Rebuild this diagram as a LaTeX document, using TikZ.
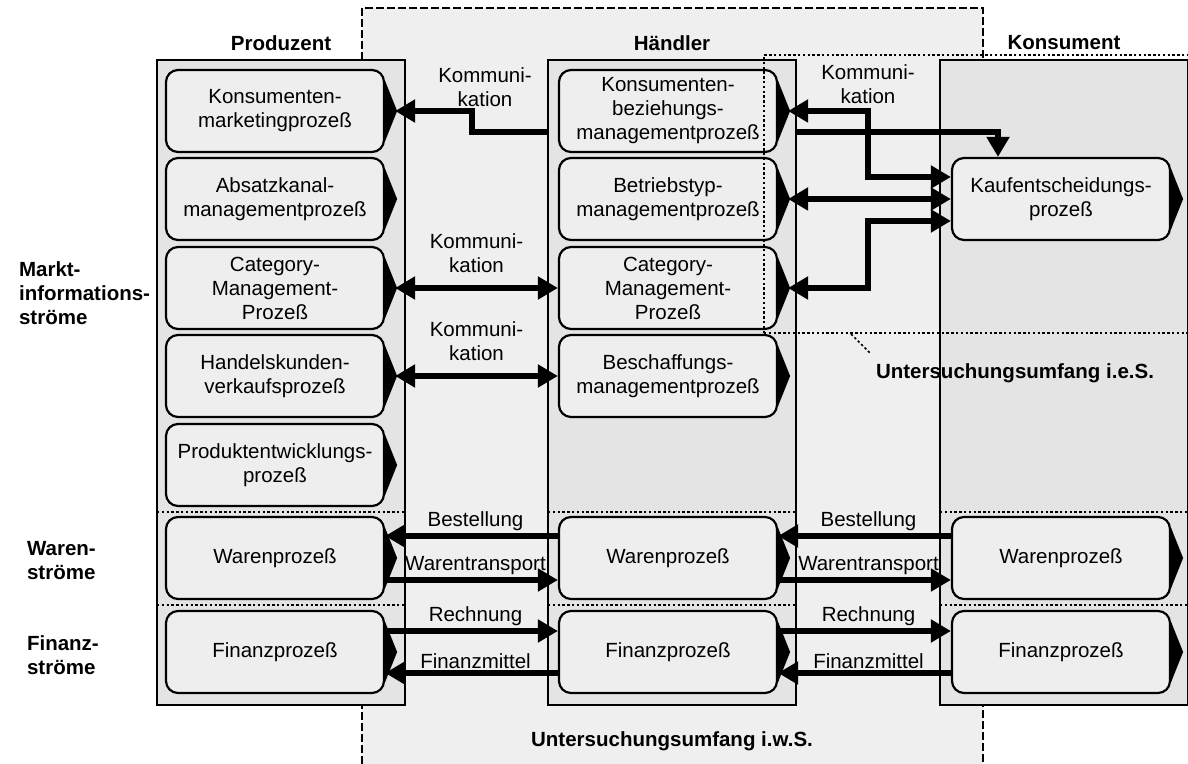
\documentclass[tikz,border=0pt]{standalone}
\usepackage{fontspec}
\setmainfont{Liberation Sans}
\usetikzlibrary{arrows.meta}
\definecolor{outergray}{HTML}{EFEFEF}
\definecolor{colgray}{HTML}{E4E4E4}
\definecolor{procgray}{HTML}{EEEEEE}

\begin{document}
\begin{tikzpicture}[x=0.5pt, y=-0.5pt, font=\fontsize{10.25}{12}\selectfont]
        \tikzstyle{col}=[draw, line width=1pt, fill=colgray, minimum width=124pt, minimum height=322.5pt, inner sep=0pt]
        \tikzstyle{proc}=[draw, line width=1.1pt, fill=procgray, rounded corners=6pt, minimum width=109pt, minimum height=41pt, inner sep=1pt, align=center]
        \tikzstyle{flow}=[line width=2.8pt, -{Triangle[length=10pt, width=11pt]}]
        \tikzstyle{both}=[line width=2.8pt, {Triangle[length=10pt, width=11pt]}-{Triangle[length=10pt, width=11pt]}]
        \tikzstyle{sep}=[line width=1pt, dash pattern=on 1.2pt off 1.2pt]
        \tikzstyle{wide}=[line width=0.9pt, dash pattern=on 4pt off 1.5pt]
        \tikzstyle{head}=[font=\fontsize{10.25}{12}\selectfont\bfseries]
        \tikzstyle{lbl}=[above, inner sep=1pt, xshift=2pt]

        \useasboundingbox (0,0) rectangle (1188,764);

        % Untersuchungsumfang i.w.S.
        \fill[outergray] (362,8) rectangle (983,764);
        \draw[wide] (362,764) -- (362,8) -- (983,8) -- (983,764);

        \foreach \n/\x/\t in {prod/281/Produzent, haen/672/Händler, kons/1064/Konsument}
        {
          \path (\x,382.5) node[col] (\n) {};
          \path (\x,43) node[head] (\n-t) {\t};
        }

        \foreach \a/\b in {157/405, 548/796, 940/1188}
        {
          \draw[sep] (\a,512) -- (\b,512);
          \draw[sep] (\a,605) -- (\b,605);
        }

        \foreach \n/\y/\t in {pkm/111/{Konsumenten-\\marketingprozeß}, pak/199/{Absatzkanal-\\managementprozeß},
            pcm/288/{Category-\\Management-\\Prozeß}, phv/376/{Handelskunden-\\verkaufsprozeß},
            ppe/465/{Produktentwicklungs-\\prozeß}, pw/558/Warenprozeß, pf/652/Finanzprozeß}
        {
          \path (275,\y) node[proc] (\n) {\t};
        }

        \foreach \n/\y/\t in {hkb/111/{Konsumenten-\\beziehungs-\\managementprozeß}, hbt/199/{Betriebstyp-\\managementprozeß},
            hcm/288/{Category-\\Management-\\Prozeß}, hbm/376/{Beschaffungs-\\managementprozeß},
            hw/558/Warenprozeß, hf/652/Finanzprozeß}
        {
          \path (668,\y) node[proc] (\n) {\t};
        }

        \foreach \n/\y/\t in {kke/199/{Kaufentscheidungs-\\prozeß}, kw/558/Warenprozeß, kf/652/Finanzprozeß}
        {
          \path (1061,\y) node[proc] (\n) {\t};
        }

        \foreach \n in {pkm, pak, pcm, phv, ppe, pw, pf, hkb, hbt, hcm, hbm, hw, hf, kke, kw, kf}
          \fill ([yshift=-6pt]\n.north east) -- ([xshift=6pt]\n.east) -- ([yshift=6pt]\n.south east) -- cycle;

        % Kommunikation
        \coordinate (hl) at (548,132);
        \coordinate (hr) at (797,132);
        \draw[flow] (hl) -- (472,132) |- ([xshift=5pt]pkm.east);
        \path (485,87) node[align=center] (k1) {Kommuni-\\kation};

        \draw[both] ([xshift=5pt]hkb.east) -| (868,177) -- ([yshift=11pt]kke.west);
        \draw[both] ([xshift=5pt]hbt.east) -- (kke.west);
        \draw[both] ([xshift=5pt]hcm.east) -| (868,221) -- ([yshift=-11pt]kke.west);
        \draw[flow] (hr) -| ([xshift=-31.5pt]kke.north);
        \path (868,84) node[align=center] (k2) {Kommuni-\\kation};

        \draw[both] ([xshift=5pt]pcm.east) -- node[above=3pt, align=center] (k3) {Kommuni-\\kation} (hcm.west);
        \draw[both] ([xshift=5pt]phv.east) -- node[above=3pt, align=center] (k4) {Kommuni-\\kation} (hbm.west);

        % Waren- und Finanzstroeme
        \foreach \a/\b in {pw/hw, hw/kw}
        {
          \draw[flow] ([yshift=11pt]\b.west) -- node[lbl] (\a-be) {Bestellung} ([yshift=11pt]\a.east);
          \draw[flow] ([yshift=-11pt]\a.east) -- node[lbl] (\a-wt) {Warentransport} ([yshift=-11pt]\b.west);
        }
        \foreach \a/\b in {pf/hf, hf/kf}
        {
          \draw[flow] ([yshift=10.5pt]\a.east) -- node[lbl] (\a-re) {Rechnung} ([yshift=10.5pt]\b.west);
          \draw[flow] ([yshift=-10.5pt]\b.west) -- node[lbl] (\a-fm) {Finanzmittel} ([yshift=-10.5pt]\a.east);
        }

        % Untersuchungsumfang i.e.S.
        \draw[sep] (764,333) -- (764,55) -- (1188,55);
        \draw[sep] (764,333) -- (1188,333);
        \draw[sep, line width=0.8pt] (851,334) -- (870,353);
        \path (1015,373) node[head] (ies) {Untersuchungsumfang i.e.S.};
        \path (672,741) node[head] (iws) {Untersuchungsumfang i.w.S.};

        \path (12,293) node[head, anchor=west, align=left] (markt) {Markt-\\informations-\\ströme};
        \path (20,561) node[head, anchor=west, align=left] (waren) {Waren-\\ströme};
        \path (20,655) node[head, anchor=west, align=left] (finanz) {Finanz-\\ströme};
      \end{tikzpicture}
\end{document}
